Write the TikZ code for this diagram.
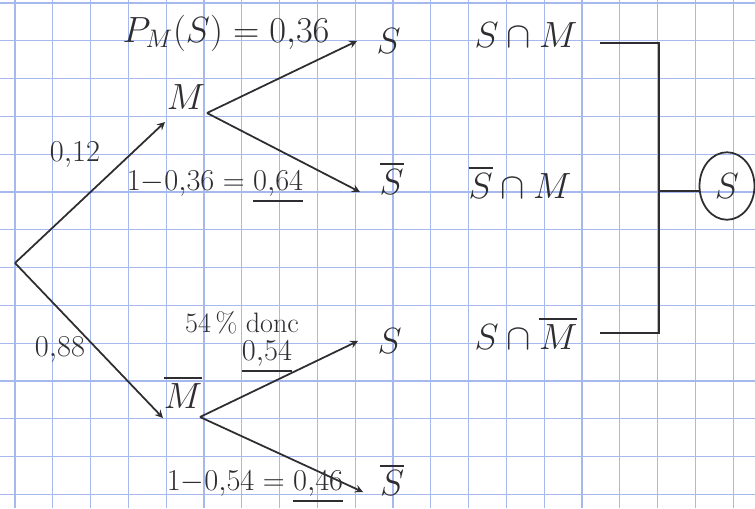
\documentclass[tikz,border=0pt]{standalone}
\usepackage{amsmath}
\usetikzlibrary{arrows, positioning, calc, shapes.geometric}
\definecolor{gridblue}{RGB}{165,185,238}
\definecolor{ink}{RGB}{45,45,50}

\begin{document}
\begin{tikzpicture}[
    x=0.02cm, y=-0.02cm,
    branch/.style={draw=ink, line width=1pt, ->, >=stealth},
    link/.style={draw=ink, line width=1pt},
    event/.style={text=ink, font=\fontsize{20}{22}\selectfont, inner sep=1pt},
    proba/.style={text=ink, font=\fontsize{16}{18}\selectfont, inner sep=1pt},
    result/.style={ellipse, draw=ink, line width=1pt, text=ink, minimum width=1.1cm, minimum height=1.35cm, font=\fontsize{20}{22}\selectfont}
]
    \useasboundingbox (0,0) rectangle (755,508);
    \fill[white] (0,0) rectangle (755,508);

    % grid paper
    \foreach \k in {0,...,19}
        \draw[gridblue, line width=0.7pt] ({15+37.8*\k},0) -- ({15+37.8*\k},508);
    \foreach \k in {0,...,13}
        \draw[gridblue, line width=0.7pt] (0,{3+37.8*\k}) -- (755,{3+37.8*\k});

    % branch points
    \coordinate (root) at (15,263);
    \coordinate (mIn) at (165,122);
    \coordinate (mOut) at (207,113);
    \coordinate (nmIn) at (163,418);
    \coordinate (nmOut) at (200,417);
    \coordinate (sEnd) at (357,41);
    \coordinate (nsEnd) at (360,192);
    \coordinate (snmEnd) at (358,341);
    \coordinate (nsnmEnd) at (363,492);

    % events
    \node[event] (m) at (186,97) {$M$};
    \node[event] (nm) at (183,392) {$\overline{M}$};
    \node[event, right=0.35cm of sEnd] (s) {$S$};
    \node[event, right=0.35cm of nsEnd, yshift=8pt] (ns) {$\overline{S}$};
    \node[event, right=0.35cm of snmEnd] (snm) {$S$};
    \node[event, right=0.3cm of nsnmEnd, yshift=7pt] (nsnm) {$\overline{S}$};

    % probabilities
    \node[proba, font=\fontsize{21}{23}\selectfont] (pms) at (226,33) {$P_M(S) = 0{,}36$};
    \node[proba] (p12) at (75,155) {$0{,}12$};
    \node[proba] (p64) at (215,187) {$1{-}0{,}36 = \underline{0{,}64}$};
    \node[proba] (p88) at (60,350) {$0{,}88$};
    \node[proba] (donc) at (242,323) {54\,\% donc};
    \node[proba] (p54) at (267,357) {$\underline{0{,}54}$};
    \node[proba] (p46) at (255,487) {$1{-}0{,}54 = \underline{0{,}46}$};

    \draw[branch] (root) -- (mIn);
    \draw[branch] (root) -- (nmIn);
    \draw[branch] (mOut) -- (sEnd);
    \draw[branch] (mOut) -- (nsEnd);
    \draw[branch] (nmOut) -- (snmEnd);
    \draw[branch] (nmOut) -- (nsnmEnd);

    % intersections
    \node[event] (inter1) at (526,35) {$S \cap M$};
    \node[event] (inter2) at (520,182) {$\overline{S} \cap M$};
    \node[event] (inter3) at (526,333) {$S \cap \overline{M}$};
    \node[result] (res) at (727,186) {$S$};

    \coordinate (top) at (659,43);
    \coordinate (mid) at (659,191);
    \coordinate (bot) at (659,333);
    \draw[link, shorten <=0.4cm, shorten >=0.4cm] (inter1.east |- top) -- (top) -- (bot) -- (inter3.east |- bot);
    \draw[link] (mid) -- (mid -| res.west);

\end{tikzpicture}
\end{document}
